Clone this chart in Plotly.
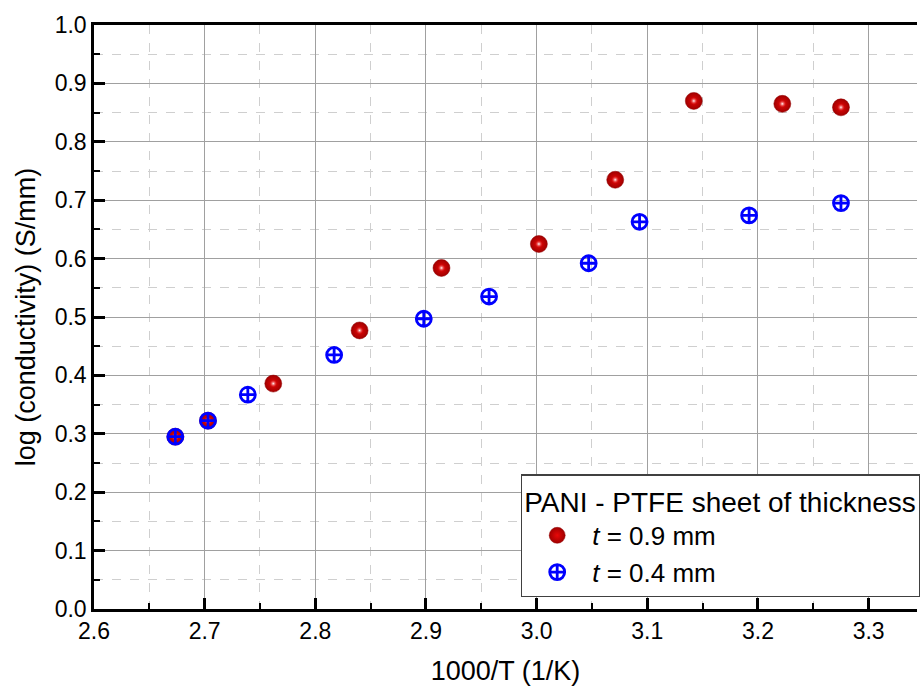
import plotly.graph_objects as go

# Arrhenius-type data: 1000/T (1/K) vs log(conductivity) (S/mm)
x_09 = [2.6735, 2.703, 2.762, 2.840, 2.914, 3.002, 3.071, 3.142, 3.222, 3.275]
y_09 = [0.295, 0.3225, 0.386, 0.477, 0.584, 0.625, 0.735, 0.870, 0.865, 0.859]

x_04 = [2.6735, 2.703, 2.739, 2.817, 2.898, 2.957, 3.047, 3.093, 3.192, 3.275]
y_04 = [0.295, 0.3225, 0.367, 0.435, 0.497, 0.535, 0.592, 0.663, 0.674, 0.695]

x_ticks = [2.6, 2.7, 2.8, 2.9, 3.0, 3.1, 3.2, 3.3]
y_ticks = [0.0, 0.1, 0.2, 0.3, 0.4, 0.5, 0.6, 0.7, 0.8, 0.9, 1.0]

FONT = "Liberation Sans, Arial, sans-serif"
TICK_SIZE = 23
TITLE_SIZE = 27

fig = go.Figure()

# red spheres: dark rim shading into a bright red body
fig.add_trace(go.Scatter(
    x=x_09, y=y_09, mode="markers", name="<i>t</i> = 0.9 mm",
    marker=dict(
        symbol="circle", size=17, color="#a00000",
        gradient=dict(type="radial", color="#e80808"),
        line=dict(width=0.5, color="#900000"),
    ),
))
# specular highlight on each sphere
fig.add_trace(go.Scatter(
    x=x_09, y=y_09, mode="markers", showlegend=False, hoverinfo="skip",
    marker=dict(
        symbol="circle", size=8, color="rgba(232,8,8,0)",
        gradient=dict(type="radial", color="#ffffff"),
        line=dict(width=0),
    ),
))

fig.add_trace(go.Scatter(
    x=x_04, y=y_04, mode="markers", name="<i>t</i> = 0.4 mm",
    marker=dict(
        symbol="circle-cross-open", size=15, color="#0000ff",
        line=dict(width=2.8, color="#0000ff"),
    ),
))

axis_common = dict(
    showline=True, linecolor="black", linewidth=2.5,
    ticks="inside", ticklen=11, tickwidth=2.5, tickcolor="black",
    showgrid=True, gridcolor="#a0a0a0", gridwidth=1.2,
    zeroline=False,
    tickfont=dict(family=FONT, size=TICK_SIZE, color="black"),
)

fig.update_xaxes(
    **axis_common,
    mirror=True,
    range=[2.6, 3.3437],
    tickvals=x_ticks, ticktext=[f"{v:.1f}" for v in x_ticks],
    minor=dict(dtick=0.05, tick0=2.6, ticks="inside", ticklen=6, tickwidth=2,
               tickcolor="black", showgrid=True, gridcolor="#cfcfcf",
               griddash="dash", gridwidth=1),
    title=dict(text="1000/T (1/K)", font=dict(family=FONT, size=TITLE_SIZE, color="black"),
               standoff=23),
)

fig.update_yaxes(
    **axis_common,
    mirror=False,
    range=[0, 1.0],
    tickvals=y_ticks, ticktext=[f"{v:.1f}" for v in y_ticks],
    minor=dict(dtick=0.05, tick0=0, ticks="inside", ticklen=6, tickwidth=2,
               tickcolor="black", showgrid=True, gridcolor="#cfcfcf",
               griddash="dash", gridwidth=1),
    title=dict(text="log (conductivity) (S/mm)", font=dict(family=FONT, size=TITLE_SIZE, color="black"),
               standoff=12),
)

fig.update_layout(
    width=920, height=686,
    margin=dict(l=94, r=0, t=25, b=77),
    plot_bgcolor="white", paper_bgcolor="white",
    font=dict(family=FONT, color="black"),
    showlegend=True,
    legend=dict(
        title=dict(text="PANI - PTFE sheet of thickness",
                   font=dict(family=FONT, size=28, color="black")),
        font=dict(family=FONT, size=26, color="black"),
        x=0.519, y=0.02, xanchor="left", yanchor="bottom",
        bgcolor="white", bordercolor="#404040", borderwidth=1.2,
        itemsizing="trace", itemwidth=60, tracegroupgap=0,
    ),
)

fig.write_html("out.html")
